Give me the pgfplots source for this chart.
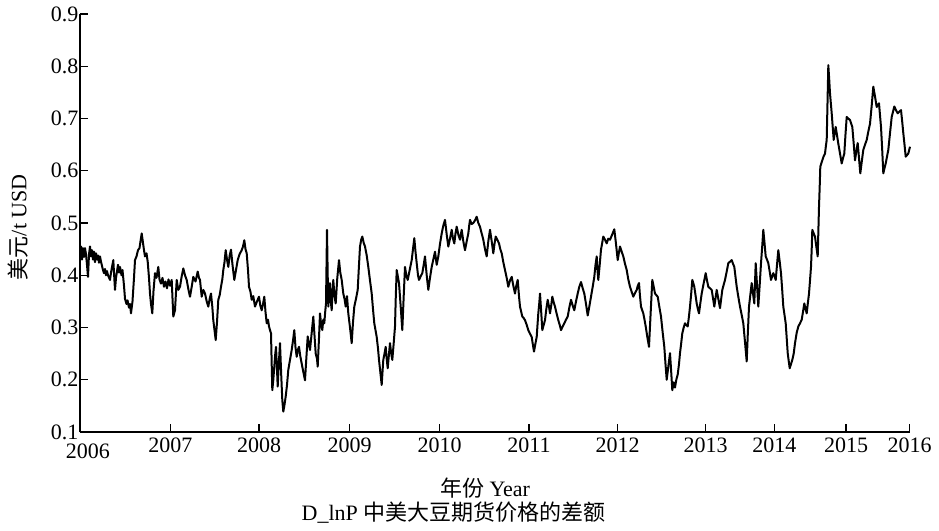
\documentclass[border=0pt]{standalone}
\usepackage{pgfplots}
\pgfplotsset{compat=1.18}
\usepackage{fontspec}
\setmainfont{Liberation Serif}
\newfontfamily\cjk{Noto Sans CJK SC}
\begin{document}
\begin{tikzpicture}
\begin{axis}[
  at={(0pt,0pt)}, anchor=south west,
  scale only axis, width=830pt, height=418pt,
  xmin=80, xmax=910, ymin=0.1, ymax=0.9,
  axis x line*=bottom, axis y line*=left,
  axis line style={line width=1.5pt, -},
  every tick/.style={black, line width=1.2pt},
  major tick length=8pt,
  tick align=inside,
  xtick={80,170.3,259,349.5,439.5,529,617.7,705.7,774.3,846,909.7},
  xticklabels={\raisebox{-6pt}[\height][\depth]{\hspace*{16pt}2006},2007,2008,2009,2010,2011,2012,2013,2014,2015,2016},
  ytick={0.1,0.2,0.3,0.4,0.5,0.6,0.7,0.8,0.9},
  yticklabel style={/pgf/number format/fixed, /pgf/number format/precision=1, /pgf/number format/fixed zerofill},
  /pgf/number format/assume math mode=true,
  tick label style={font=\fontsize{22}{26}\selectfont},
  xticklabel style={yshift=-2pt},
  yticklabel style={xshift=2pt},
  clip=false,
]
\addplot[black, line width=2pt, line join=round] coordinates {
(80,0.440)(81,0.455)(82,0.430)(83,0.452)(84,0.435)(85,0.452)(86,0.440)(87,0.420)(88,0.397)(89,0.440)
(90,0.455)(91,0.436)(92,0.448)(93,0.430)(94,0.445)(95,0.425)(96,0.442)(97,0.430)(98,0.438)(99,0.424)
(100,0.436)(101,0.426)(102,0.418)(103,0.410)(104,0.404)(105,0.412)(106,0.400)(107,0.408)(108,0.400)(110,0.391)
(111,0.405)(113.3,0.429)(114,0.405)(115,0.372)(116,0.395)(118,0.420)(119,0.405)(120,0.416)(121.5,0.400)(122.5,0.410)
(124,0.380)(125,0.355)(126.5,0.345)(127.5,0.352)(129,0.338)(130,0.345)(131,0.327)(132.5,0.350)(134,0.395)(135,0.429)
(136.5,0.436)(138,0.448)(139.5,0.452)(140.5,0.465)(141.7,0.480)(143,0.462)(144,0.448)(145,0.436)(146.5,0.442)(147.7,0.426)
(149,0.395)(150,0.365)(151,0.345)(152.3,0.327)(153.5,0.370)(155,0.404)(156.5,0.395)(158.3,0.416)(159.5,0.392)(161,0.384)
(162.5,0.395)(164,0.378)(165.5,0.388)(167,0.375)(168.5,0.392)(170,0.380)(171.7,0.391)(173.3,0.321)(175,0.333)(176.7,0.391)
(178.3,0.372)(180,0.378)(181.7,0.398)(183.3,0.413)(185,0.400)(186.7,0.391)(188.5,0.372)(190,0.359)(191.7,0.378)(193.3,0.397)
(195.5,0.388)(197.7,0.407)(199,0.395)(200,0.391)(201.7,0.359)(203.3,0.372)(205,0.365)(206.7,0.350)(208.3,0.340)(209.7,0.355)
(211,0.365)(212.3,0.340)(213.3,0.314)(214.5,0.295)(215.7,0.276)(217,0.310)(218.3,0.353)(219.7,0.362)(221,0.378)(222.3,0.392)
(223.3,0.410)(224.5,0.425)(225.7,0.448)(227,0.430)(228.3,0.416)(229.7,0.438)(231,0.449)(232.5,0.420)(234.3,0.391)(236,0.410)
(237.7,0.429)(239.5,0.440)(241.7,0.448)(243,0.455)(244.3,0.467)(245.5,0.450)(246.7,0.442)(248,0.410)(249,0.378)(250.5,0.368)
(251.7,0.353)(253.3,0.360)(255,0.340)(257,0.350)(259,0.359)(260.3,0.342)(261.7,0.333)(263,0.345)(264.3,0.359)(265.5,0.330)
(266.7,0.308)(268,0.315)(269,0.302)(270,0.295)(271,0.289)(272.3,0.180)(273.3,0.200)(274.3,0.225)(275.2,0.248)(276,0.263)
(277,0.220)(277.7,0.187)(278.8,0.230)(280,0.270)(281.2,0.210)(282.3,0.161)(283.3,0.139)(284.5,0.152)(285.7,0.168)(287,0.190)
(288.3,0.219)(290,0.238)(291.7,0.257)(293,0.275)(294.3,0.295)(295.5,0.262)(296.7,0.244)(298,0.258)(299,0.263)(300.3,0.245)
(301.7,0.231)(303.3,0.215)(305,0.199)(306.3,0.240)(307.7,0.283)(309,0.268)(310,0.257)(311.7,0.290)(313.3,0.321)(314.5,0.285)
(315.7,0.250)(317,0.240)(317.7,0.225)(319,0.280)(320,0.327)(321.2,0.305)(322.3,0.295)(323.3,0.315)(324.3,0.308)(325.2,0.330)
(326,0.346)(327,0.487)(327.7,0.400)(328.3,0.340)(329.2,0.370)(330,0.385)(330.8,0.350)(331.7,0.333)(332.5,0.370)(333.3,0.391)
(334.5,0.360)(335.7,0.346)(337.3,0.395)(339,0.429)(340.3,0.405)(341.7,0.391)(342.5,0.378)(343.3,0.365)(344.5,0.355)(345.7,0.340)
(347,0.360)(348.3,0.327)(350,0.300)(351.7,0.270)(353,0.310)(354.3,0.340)(356,0.355)(357.7,0.372)(359,0.420)(360,0.455)
(361.2,0.468)(362.3,0.474)(363.7,0.462)(365,0.455)(366.7,0.438)(368.3,0.416)(370,0.390)(371.7,0.365)(373,0.335)(374.3,0.308)
(375.5,0.295)(376.7,0.282)(378,0.260)(379,0.238)(380.3,0.215)(381.7,0.190)(382.5,0.215)(383.3,0.238)(384.5,0.250)(385.7,0.263)
(386.7,0.240)(387.7,0.222)(389,0.250)(390,0.270)(391.2,0.250)(392.3,0.238)(393.7,0.270)(395,0.302)(395.8,0.360)(396.7,0.410)
(397.8,0.398)(399,0.385)(400.7,0.340)(402.3,0.295)(403.7,0.360)(405,0.416)(406.3,0.400)(407.7,0.391)(409.7,0.410)(411.7,0.429)
(413,0.450)(414.3,0.471)(415.5,0.445)(416.7,0.423)(418,0.400)(419,0.391)(420.7,0.398)(422.3,0.404)(423.7,0.420)(425,0.436)
(426.7,0.400)(428.3,0.372)(430,0.395)(431.7,0.416)(433.3,0.430)(435,0.445)(436.7,0.420)(438.3,0.436)(440,0.460)(441.7,0.480)
(443.3,0.495)(445,0.506)(446.7,0.478)(448.3,0.455)(450,0.470)(451.7,0.487)(453,0.470)(454.3,0.461)(455.5,0.480)(456.7,0.493)
(458.3,0.478)(460,0.468)(461,0.480)(461.7,0.487)(463.3,0.465)(465,0.448)(466.7,0.465)(468.3,0.480)(469.2,0.495)(470,0.506)
(471.7,0.498)(473.3,0.500)(475,0.505)(476.7,0.512)(478.3,0.500)(480,0.493)(481.7,0.480)(483.3,0.468)(485,0.450)(486.7,0.436)
(488.3,0.465)(490,0.487)(491.7,0.465)(493.3,0.442)(494.5,0.460)(495.7,0.474)(497.3,0.468)(499,0.461)(500.3,0.450)(501.7,0.442)
(503.3,0.425)(505,0.410)(506.7,0.395)(508.3,0.378)(510,0.390)(511.7,0.397)(513.3,0.380)(515,0.365)(516.3,0.380)(517.7,0.391)
(519,0.360)(520,0.340)(521.2,0.330)(522.3,0.321)(523.7,0.318)(525,0.314)(526.7,0.305)(528.3,0.295)(530,0.288)(531.7,0.282)
(532.8,0.268)(534,0.254)(535.3,0.268)(536.7,0.282)(537.5,0.305)(538.3,0.327)(539.2,0.345)(540,0.365)(541.2,0.330)(542.3,0.295)
(543.7,0.305)(545,0.314)(546.3,0.335)(547.7,0.353)(549,0.340)(550,0.327)(551.2,0.342)(552.3,0.359)(553.7,0.348)(555,0.340)
(556.7,0.326)(558.3,0.314)(559.7,0.305)(561,0.295)(562.7,0.302)(564.3,0.308)(566,0.315)(567.7,0.321)(569.3,0.338)(571,0.353)
(572.7,0.342)(574.3,0.333)(576,0.350)(577.7,0.365)(579.3,0.378)(581,0.387)(582.7,0.375)(584.3,0.365)(586,0.345)(587.7,0.323)
(589.3,0.340)(591,0.359)(592.7,0.378)(594.3,0.397)(595.5,0.420)(596.7,0.436)(597.5,0.410)(598.3,0.391)(599.7,0.420)(601,0.449)
(602.2,0.462)(603.3,0.474)(605,0.468)(606.7,0.461)(608.3,0.470)(610,0.468)(612.2,0.478)(614.3,0.488)(616,0.460)(617.7,0.429)
(618.8,0.442)(620,0.455)(621.7,0.445)(623.3,0.436)(625,0.422)(626.7,0.410)(628.3,0.392)(630,0.378)(631.7,0.368)(633.3,0.359)
(635,0.366)(636.7,0.372)(637.8,0.380)(639,0.385)(640,0.360)(641,0.340)(642.2,0.333)(643.3,0.327)(644.5,0.315)(645.7,0.302)
(647.3,0.282)(649,0.263)(650.7,0.330)(652.3,0.391)(653.7,0.378)(655,0.365)(656.3,0.362)(657.7,0.359)(659.3,0.340)(661,0.321)
(662.7,0.290)(664.3,0.263)(665.5,0.230)(666.7,0.200)(668.3,0.225)(670,0.251)(671.2,0.215)(672.3,0.180)(673.7,0.195)(675,0.185)
(676.3,0.200)(677.7,0.210)(679,0.230)(680,0.251)(681.2,0.270)(682.3,0.289)(683.7,0.300)(685,0.308)(686.3,0.305)(687.7,0.302)
(689,0.322)(690,0.340)(691.2,0.365)(692.3,0.391)(693.3,0.385)(694.3,0.378)(695.5,0.362)(696.7,0.346)(697.8,0.336)(699,0.327)
(700.3,0.346)(701.7,0.365)(703.7,0.385)(705.7,0.404)(707,0.390)(708.3,0.378)(710,0.375)(711.7,0.372)(713,0.356)(714.3,0.340)
(715.5,0.356)(716.7,0.372)(718.3,0.355)(720,0.337)(721.2,0.355)(722.3,0.372)(723.7,0.382)(725,0.391)(726.7,0.407)(728.3,0.423)
(730,0.426)(731.7,0.429)(733,0.422)(734.3,0.416)(735.5,0.397)(736.7,0.378)(738.3,0.359)(740,0.340)(741.7,0.324)(743.3,0.308)
(745,0.272)(746.7,0.235)(747.8,0.288)(749,0.340)(750.3,0.362)(751.7,0.385)(753,0.365)(754.3,0.346)(755,0.385)(755.7,0.423)
(757,0.382)(758.3,0.340)(759.7,0.382)(761,0.423)(762.2,0.455)(763.3,0.487)(764.5,0.462)(765.7,0.436)(767,0.430)(768.3,0.423)
(769.7,0.407)(771,0.391)(772.2,0.398)(773.3,0.404)(774.5,0.398)(775.7,0.391)(777,0.420)(778.3,0.448)(779.7,0.426)(781,0.404)
(782.2,0.372)(783.3,0.340)(784.5,0.324)(785.7,0.308)(786.7,0.280)(787.7,0.251)(788.7,0.236)(789.7,0.222)(791,0.230)(792.3,0.238)
(793.7,0.250)(795,0.270)(796.7,0.290)(798.3,0.302)(800,0.308)(801.7,0.315)(803,0.330)(804.3,0.346)(805.5,0.336)(806.7,0.327)
(807.8,0.346)(809,0.365)(810,0.390)(811,0.416)(811.7,0.450)(812.3,0.487)(813.7,0.480)(815,0.474)(816.3,0.455)(817.7,0.436)
(818.3,0.480)(819,0.531)(819.7,0.570)(820.3,0.608)(821.3,0.614)(822.3,0.620)(823.7,0.628)(825,0.633)(825.8,0.646)(826.7,0.659)
(827.5,0.730)(828.3,0.802)(829.2,0.775)(830,0.748)(830.8,0.730)(831.7,0.710)(832.7,0.684)(833.7,0.659)(834.7,0.672)(835.7,0.684)
(837,0.668)(838.3,0.652)(840,0.633)(841.7,0.614)(843,0.624)(844.3,0.633)(845.5,0.670)(846.7,0.703)(848.3,0.700)(850,0.697)
(851.2,0.690)(852.3,0.684)(853.7,0.652)(855,0.620)(856.3,0.637)(857.7,0.653)(859,0.624)(860.3,0.595)(861.8,0.618)(863.3,0.640)
(865,0.650)(866.7,0.659)(868.3,0.675)(870,0.690)(871.7,0.725)(873.3,0.761)(875,0.742)(876.7,0.722)(877.8,0.726)(879,0.729)
(880,0.706)(881,0.684)(882.2,0.640)(883.3,0.595)(884.5,0.605)(885.7,0.614)(887,0.627)(888.3,0.640)(890,0.672)(891.7,0.703)
(893,0.713)(894.3,0.723)(896,0.716)(897.7,0.710)(899.3,0.713)(901,0.716)(902.2,0.694)(903.3,0.672)(904.5,0.650)(905.7,0.627)
(907,0.630)(908.3,0.633)(909.2,0.640)(910,0.646)
};
\node[font=\fontsize{22}{26}\selectfont] at (rel axis cs:0.488,-0.135) {{\cjk 年份} Year};
\node[font=\fontsize{22}{26}\selectfont] at (rel axis cs:0.45,-0.193) {D\_lnP {\cjk 中美大豆期货价格的差额}};
\node[font=\fontsize{22}{26}\selectfont, rotate=90] at (rel axis cs:-0.0747,0.49) {{\cjk 美元}/t USD};
\end{axis}
\path (-80pt,-98pt) rectangle (859pt,432pt);
\end{tikzpicture}
\end{document}
